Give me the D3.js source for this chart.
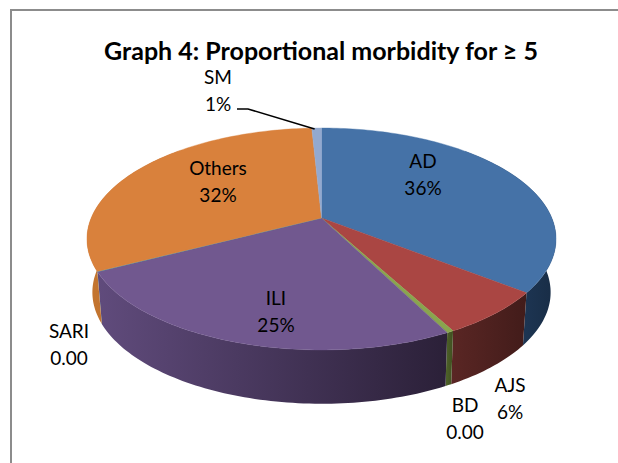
<!DOCTYPE html>
<html>
<head>
<meta charset="utf-8">
<style>
  html, body { margin: 0; padding: 0; background: #fff; }
  svg { display: block; }
  text { font-family: Lato, "Open Sans", sans-serif; fill: #000; }
</style>
<script src="https://cdn.jsdelivr.net/npm/d3@7"></script>
</head>
<body>
<div id="chart"></div>
<script>
const categories = ['AD', 'AJS', 'BD', 'ILI', 'SARI', 'Others', 'SM'];
const shares = [35.6, 6.5, 0.4, 24.9, 0.05, 31.75, 0.8];
const valueLabels = ['36%', '6%', '0.00', '25%', '0.00', '32%', '1%'];
const topColors = ['#4572a7', '#aa4643', '#89a54e', '#71588f', '#4198af', '#d9813c', '#93a9cf'];
const wallLight = ['#27476d', '#5a2624', '#4f6329', '#604b7c', '#2b6475', '#c4752f', '#6c7f9f'];
const wallDark = ['#182c45', '#421c1a', '#3f4f20', '#2b2038', '#1e4a57', '#b86d30', '#56667f'];

const width = 618, height = 463;

const svg = d3.select('#chart').append('svg')
  .attr('width', width)
  .attr('height', height);

// chart frame, the crop only keeps its top and left edges
svg.append('path')
  .attr('fill', 'none')
  .attr('stroke', '#8c8c8c')
  .attr('stroke-width', 2)
  .attr('d', d3.line()([[11, height], [11, 10], [width, 10]]));

// perspective discs, the near side of the pie is drawn bigger
const topDisc = { cx: 321.5, cy: 218, rx: 230.3, ry: 107, k: 0.189 };
const baseDisc = { cx: 321.5, cy: 270, rx: 224.5, ry: 107, k: 0.2 };

function project(disc, angle, r = 1) {
  const u = Math.sin(angle) * r, v = -Math.cos(angle) * r;
  const w = 1 - disc.k * v;
  return [disc.cx + disc.rx * u / w, disc.cy + disc.ry * v / w];
}

const slices = d3.pie().sort(null).value(d => d)(shares)
  .map((s, i) => ({ ...s, name: categories[i], i }));

function arcAngles(a0, a1) {
  const n = Math.max(2, Math.ceil((a1 - a0) / 0.02));
  return d3.range(n + 1).map(j => a0 + (a1 - a0) * j / n);
}

const line = d3.line();
const defs = svg.append('defs');

slices.forEach(s => {
  const g = defs.append('linearGradient').attr('id', `wall${s.i}`);
  g.append('stop').attr('offset', '0%').attr('stop-color', wallLight[s.i]);
  g.append('stop').attr('offset', '100%').attr('stop-color', wallDark[s.i]);
});

// walls: the back part ends up under the top face anyway
const frontStart = Math.PI * 0.25, frontEnd = Math.PI * 1.75;
svg.append('g').selectAll('path')
  .data(slices.filter(s => s.endAngle > frontStart && s.startAngle < frontEnd))
  .join('path')
  .attr('fill', d => `url(#wall${d.i})`)
  .attr('d', d => {
    const as = arcAngles(Math.max(d.startAngle, frontStart), Math.min(d.endAngle, frontEnd));
    const upper = as.map(a => project(topDisc, a));
    const lower = as.map(a => project(baseDisc, a)).reverse();
    return line(upper.concat(lower)) + 'Z';
  });

// top face
svg.append('g').selectAll('path')
  .data(slices)
  .join('path')
  .attr('fill', d => topColors[d.i])
  .attr('stroke', d => topColors[d.i])
  .attr('stroke-width', 0.4)
  .attr('d', d => {
    const rim = arcAngles(d.startAngle, d.endAngle).map(a => project(topDisc, a));
    return line([[topDisc.cx, topDisc.cy]].concat(rim)) + 'Z';
  });

// leader for SM
const sm = slices[categories.indexOf('SM')];
const smRim = project(topDisc, (sm.startAngle + sm.endAngle) / 2);
svg.append('path')
  .attr('fill', 'none')
  .attr('stroke', '#000')
  .attr('stroke-width', 1.5)
  .attr('d', line([[237, 109], [248, 109], [smRim[0] - 2, smRim[1] + 1]]));

const labelPos = {
  AD: [423, 162], AJS: [510, 386], BD: [465, 406], ILI: [276, 299],
  SARI: [69, 332], Others: [218, 169], SM: [218, 78]
};

const labels = svg.append('g').selectAll('text')
  .data(slices)
  .join('text')
  .attr('text-anchor', 'middle')
  .attr('font-size', 19);

labels.append('tspan')
  .attr('x', d => labelPos[d.name][0])
  .attr('y', d => labelPos[d.name][1] + 6)
  .text(d => d.name);
labels.append('tspan')
  .attr('x', d => labelPos[d.name][0])
  .attr('y', d => labelPos[d.name][1] + 33)
  .text(d => valueLabels[d.i]);

svg.append('text')
  .attr('x', 321)
  .attr('y', 60)
  .attr('text-anchor', 'middle')
  .attr('font-size', 25)
  .attr('font-weight', 700)
  .text('Graph 4: Proportional morbidity for ≥ 5');
</script>
</body>
</html>
